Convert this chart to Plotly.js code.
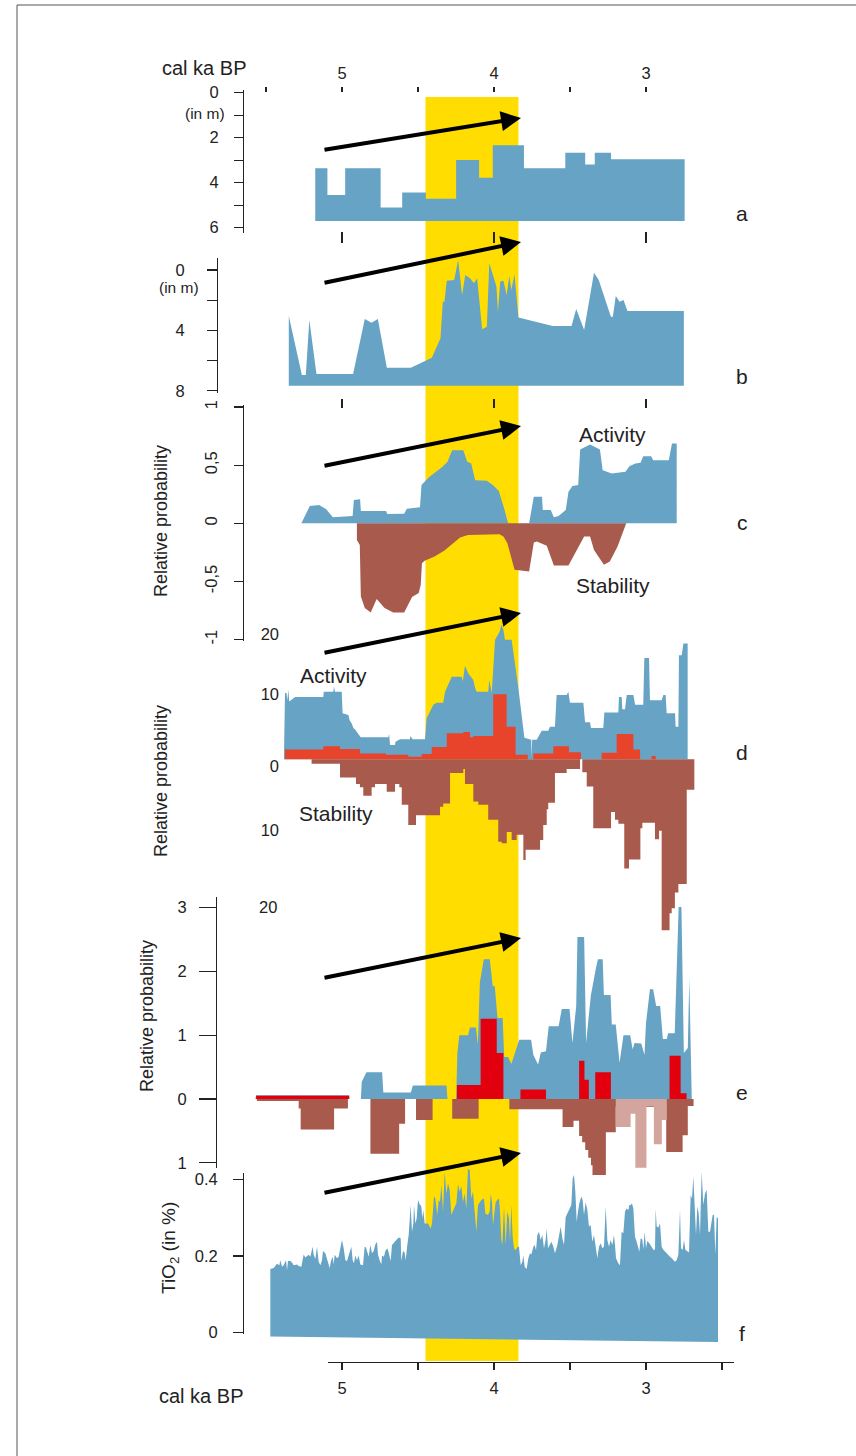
<!DOCTYPE html>
<html><head><meta charset="utf-8">
<script src="https://cdn.plot.ly/plotly-3.0.1.min.js"></script>
<style>html,body{margin:0;padding:0;background:#fff}#chart{width:856px;height:1456px}</style>
</head><body><div id="chart"></div>
<script>
// ---------------- DATA (ages in cal ka BP) ----------------
const topTickAges = [5.5, 5, 4.5, 4, 3.5, 3];
const topTickLabels = ['', '5', '', '4', '', '3'];
const midTickAges = [5, 4, 3];
const bottomTickAges = [5, 4.5, 4, 3.5, 3, 2.5];
const bottomTickLabels = ['5', '', '4', '', '3', ''];
const highlightAges = [4.451, 3.839];

// a: depth (m)
const aAge = [5.176, 5.096, 4.979, 4.746, 4.604, 4.448, 4.249, 4.098, 4.008, 3.803, 3.531, 3.400, 3.337, 3.230, 2.746];
const aDepth = [3.36, 4.55, 3.36, 5.10, 4.44, 4.71, 2.99, 3.78, 2.34, 3.36, 2.67, 3.19, 2.67, 2.96, 2.96];
const aBase = 5.7;
const aTicks = [0, 1, 2, 3, 4, 5, 6];
const aTickText = ['0', '', '2', '', '4', '', '6'];

// b: depth (m)
const bAge = [5.350, 5.264, 5.238, 5.215, 5.168, 4.927, 4.850, 4.806, 4.764, 4.705, 4.547, 4.409, 4.352, 4.337, 4.326, 4.311, 4.262, 4.236, 4.210, 4.189, 4.158, 4.132, 4.111, 4.078, 4.047, 4.031, 3.984, 3.974, 3.959, 3.938, 3.917, 3.899, 3.886, 3.865, 3.839, 3.614, 3.490, 3.459, 3.407, 3.342, 3.311, 3.231, 3.218, 3.199, 3.174, 3.148, 3.122, 2.751];
const bDepth = [3.05, 6.96, 6.96, 3.31, 6.90, 6.90, 3.25, 3.49, 3.25, 6.47, 6.47, 5.81, 4.53, 2.10, 2.10, 0.71, 0.66, -0.66, 1.66, 0.33, 0.55, 0.88, 0.55, 3.93, 3.76, -0.44, 1.10, 2.76, 0.77, 0.71, 1.66, 0.40, 1.33, 0.29, 3.14, 3.71, 3.71, 2.59, 3.98, 0.18, 0.66, 3.09, 3.09, 1.72, 2.10, 1.99, 2.72, 2.72];
const bBase = 7.67;
const bTicks = [0, 2, 4, 6, 8];
const bTickText = ['0', '', '4', '', '8'];

// c: relative probability
const cActAge = [5.267, 5.212, 5.150, 5.104, 5.060, 4.930, 4.922, 4.881, 4.876, 4.710, 4.702, 4.591, 4.573, 4.487, 4.477, 4.430, 4.339, 4.306, 4.275, 4.202, 4.176, 4.150, 4.124, 4.047, 4.008, 3.969, 3.938, 3.907, 3.769, 3.738, 3.684, 3.679, 3.627, 3.606, 3.575, 3.528, 3.510, 3.484, 3.446, 3.433, 3.368, 3.303, 3.285, 3.225, 3.135, 3.109, 3.070, 3.036, 3.018, 2.966, 2.953, 2.850, 2.829, 2.798, 2.798];
const cActVal = [0, 0.149, 0.157, 0.12, 0.051, 0.063, 0.2, 0.206, 0.106, 0.106, 0.08, 0.083, 0.126, 0.137, 0.329, 0.394, 0.486, 0.529, 0.629, 0.629, 0.529, 0.514, 0.371, 0.366, 0.329, 0.28, 0.149, 0, 0, 0.229, 0.229, 0.114, 0.114, 0.051, 0.063, 0.114, 0.271, 0.32, 0.329, 0.634, 0.677, 0.634, 0.457, 0.429, 0.443, 0.491, 0.514, 0.52, 0.577, 0.577, 0.543, 0.543, 0.686, 0.686, 0];
const cStabAge = [4.902, 4.902, 4.883, 4.876, 4.850, 4.811, 4.772, 4.720, 4.663, 4.591, 4.539, 4.495, 4.482, 4.474, 4.456, 4.391, 4.326, 4.275, 4.223, 4.171, 3.964, 3.938, 3.912, 3.865, 3.769, 3.738, 3.718, 3.653, 3.606, 3.510, 3.407, 3.368, 3.342, 3.277, 3.238, 3.187, 3.130];
const cStabVal = [0, -0.143, -0.186, -0.629, -0.729, -0.766, -0.651, -0.729, -0.766, -0.766, -0.634, -0.6, -0.529, -0.343, -0.323, -0.286, -0.234, -0.18, -0.123, -0.1, -0.094, -0.114, -0.171, -0.4, -0.414, -0.166, -0.157, -0.194, -0.363, -0.363, -0.114, -0.114, -0.229, -0.357, -0.329, -0.2, 0];
const cTicks = [-1, -0.5, 0, 0.5, 1];
const cTickText = ['-1', '-0,5', '0', '0,5', '1'];

// d: relative probability (activity up, stability down)
const dActAge = [5.382, 5.380, 5.375, 5.365, 5.360, 5.353, 5.347, 5.309, 5.123, 5.120, 5.057, 5.053, 5.046, 5.002, 4.996, 4.958, 4.950, 4.936, 4.925, 4.914, 4.877, 4.695, 4.690, 4.684, 4.651, 4.648, 4.618, 4.553, 4.550, 4.535, 4.454, 4.443, 4.399, 4.377, 4.334, 4.322, 4.278, 4.213, 4.205, 4.191, 4.169, 4.136, 4.125, 4.114, 4.038, 4.031, 4.015, 3.993, 3.964, 3.951, 3.938, 3.928, 3.884, 3.840, 3.800, 3.755, 3.752, 3.749, 3.719, 3.686, 3.643, 3.632, 3.599, 3.588, 3.577, 3.522, 3.511, 3.500, 3.489, 3.412, 3.401, 3.368, 3.362, 3.281, 3.274, 3.182, 3.178, 3.160, 3.156, 3.138, 3.127, 3.083, 3.072, 3.018, 3.011, 2.980, 2.974, 2.897, 2.886, 2.871, 2.864, 2.809, 2.805, 2.787, 2.783, 2.765, 2.754, 2.726, 2.726];
const dActVal = [0, 9.0, 10.2, 10.2, 9.0, 10.7, 8.9, 9.6, 9.6, 10.4, 10.4, 11.2, 10.4, 10.4, 7.1, 6.8, 6.0, 5.5, 4.8, 4.6, 3.4, 3.4, 3.9, 2.2, 2.2, 2.7, 3.1, 3.1, 3.6, 3.1, 3.1, 6.3, 8.4, 8.7, 8.7, 10.4, 12.7, 12.7, 12.0, 14.4, 13.2, 12.2, 11.0, 10.4, 10.4, 12.2, 10.2, 18.4, 19.6, 20.7, 19.9, 18.4, 18.4, 11.0, 3.3, 3.0, 0.2, 3.0, 3.0, 4.4, 4.4, 5.0, 5.0, 9.9, 9.9, 9.9, 10.4, 8.7, 8.7, 8.7, 5.7, 5.7, 4.8, 4.8, 7.2, 7.2, 9.6, 9.6, 7.7, 7.7, 9.9, 9.9, 8.4, 8.4, 15.6, 15.6, 9.1, 9.1, 9.9, 9.9, 7.1, 7.1, 5.0, 5.0, 16.0, 16.0, 17.8, 17.8, 0];
const dRedAge = [5.375, 5.123, 5.013, 4.882, 4.711, 4.564, 4.476, 4.410, 4.311, 4.202, 4.158, 4.136, 4.005, 3.917, 3.858, 3.778, 3.741, 3.610, 3.507, 3.428, 3.292, 3.193, 3.083, 3.039, 2.963, 2.936];
const dRedVal = [1.5, 2.0, 1.6, 0.9, 0.7, 0.4, 0.8, 1.9, 4.0, 4.2, 3.4, 3.6, 10.0, 5.0, 0.7, 0, 0.9, 2.0, 1.1, 0, 1.0, 3.9, 1.5, 0, 0.5, 0];
const dStabAge = [5.200, 5.013, 4.908, 4.882, 4.860, 4.805, 4.783, 4.706, 4.651, 4.623, 4.607, 4.564, 4.513, 4.355, 4.334, 4.289, 4.202, 4.191, 4.136, 4.103, 4.038, 3.972, 3.949, 3.916, 3.884, 3.851, 3.807, 3.792, 3.697, 3.676, 3.653, 3.643, 3.599, 3.522, 3.434, 3.419, 3.390, 3.347, 3.230, 3.204, 3.182, 3.143, 3.112, 3.037, 3.024, 2.941, 2.914, 2.897, 2.845, 2.831, 2.810, 2.787, 2.732, 2.682];
const dStabVal = [-0.7, -2.8, -3.8, -4.3, -5.6, -4.3, -3.8, -5.0, -3.8, -4.3, -7.0, -10.1, -8.6, -7.3, -6.8, -2.1, -1.5, -3.8, -6.5, -7.0, -9.3, -12.7, -12.9, -11.2, -12.4, -11.6, -15.5, -13.9, -12.4, -10.1, -7.7, -6.7, -2.1, -1.5, 0, -2.0, -4.2, -10.6, -8.1, -9.3, -9.9, -16.8, -15.4, -10.6, -9.75, -12.3, -11.0, -26.3, -23.7, -22.9, -20.5, -19.2, -4.7, 0];
const dLabelVals = [19.28, 10.05, -1.03, -10.85];
const dLabelText = ['20', '10', '0', '10'];

// e: relative probability
const eActAge = [5.570, 5.565, 4.953, 4.950, 4.876, 4.870, 4.839, 4.736, 4.728, 4.547, 4.534, 4.313, 4.306, 4.249, 4.241, 4.228, 4.171, 4.158, 4.119, 4.106, 4.093, 4.067, 4.028, 4.008, 3.995, 3.977, 3.943, 3.933, 3.907, 3.886, 3.834, 3.756, 3.741, 3.710, 3.692, 3.658, 3.640, 3.575, 3.554, 3.503, 3.484, 3.459, 3.451, 3.407, 3.394, 3.363, 3.329, 3.316, 3.285, 3.277, 3.233, 3.225, 3.199, 3.174, 3.148, 3.104, 3.088, 3.075, 3.031, 3.010, 3.000, 2.974, 2.953, 2.933, 2.907, 2.889, 2.863, 2.855, 2.811, 2.798, 2.785, 2.767, 2.751, 2.725, 2.715, 2.699];
const eActVal = [0, 0.06, 0.06, 0, 0, 0.27, 0.42, 0.42, 0.1, 0.1, 0.21, 0.21, 0, 0, 0.72, 1.0, 1.0, 1.12, 1.12, 0.85, 1.83, 2.19, 2.19, 1.77, 1.77, 1.27, 1.27, 0.66, 0.66, 0.55, 0.93, 0.93, 0.69, 0.54, 0.73, 0.75, 1.14, 1.14, 1.41, 1.41, 0.88, 1.46, 2.54, 2.54, 0.88, 1.62, 2.06, 2.19, 2.19, 1.63, 1.63, 1.17, 1.17, 0.57, 1.0, 1.0, 0.78, 0.88, 0.87, 0.69, 1.19, 1.72, 1.72, 1.46, 1.46, 0.94, 0.94, 1.03, 1.03, 1.88, 3.01, 3.01, 0.72, 0.8, 1.89, 0];
const eRedAge = [5.565, 4.953, 4.244, 4.088, 3.982, 3.938, 3.826, 3.658, 3.440, 3.405, 3.376, 3.334, 3.231, 2.845, 2.772, 2.733];
const eRedVal = [0.05, 0, 0.22, 1.26, 0.72, 0, 0.15, 0, 0.6, 0.3, 0, 0.42, 0, 0.68, 0.09, 0];
const eStabAge = [5.560, 5.285, 5.272, 5.052, 4.961, 4.813, 4.624, 4.585, 4.513, 4.404, 4.275, 4.101, 3.899, 3.549, 3.477, 3.440, 3.420, 3.400, 3.380, 3.362, 3.352, 3.264, 3.199, 2.867, 2.759, 2.725, 2.687];
const eStabVal = [-0.03, -0.15, -0.48, -0.15, 0, -0.86, -0.39, 0, -0.33, 0, -0.31, 0, -0.16, -0.44, -0.34, -0.58, -0.68, -0.8, -0.92, -1.04, -1.19, -0.52, -0.12, -0.83, -0.57, -0.11, 0];
const ePinkAge = [3.199, 3.101, 3.070, 2.997, 2.948, 2.896, 2.863];
const ePinkVal = [-0.44, -0.23, -1.08, -0.11, -0.71, -0.33, 0];
const eTicks = [3, 2, 1, 0, -1];
const eTickText = ['3', '2', '1', '0', '1'];

// f: TiO2 (%)
const fAge = [5.4715, 5.4495, 5.4276, 5.4123, 5.4057, 5.3947, 5.3838, 5.3684, 5.3618, 5.3553, 5.3399, 5.3289, 5.3180, 5.2960, 5.2851, 5.2675, 5.2522, 5.2412, 5.2193, 5.2083, 5.1930, 5.1864, 5.1754, 5.1645, 5.1535, 5.1425, 5.1316, 5.1250, 5.1096, 5.0987, 5.0877, 5.0811, 5.0724, 5.0614, 5.0548, 5.0482, 5.0329, 5.0219, 5.0110, 5.0000, 4.9890, 4.9781, 4.9671, 4.9561, 4.9386, 4.9298, 4.9211, 4.9123, 4.9013, 4.8904, 4.8794, 4.8618, 4.8509, 4.8421, 4.8333, 4.8246, 4.8136, 4.8026, 4.7917, 4.7807, 4.7697,
  4.7632, 4.7522, 4.7412, 4.7369, 4.7237, 4.7150, 4.7018, 4.6930, 4.6798, 4.6711, 4.6579, 4.6426, 4.6272, 4.6140, 4.6096, 4.5987, 4.5877, 4.5812, 4.5702, 4.5614, 4.5548, 4.5482, 4.5395, 4.5307, 4.5263, 4.5175, 4.5088, 4.5000, 4.4890, 4.4781, 4.4715, 4.4649, 4.4561, 4.4342, 4.4167, 4.4079, 4.3947, 4.3860, 4.3728, 4.3640, 4.3553, 4.3465, 4.3355, 4.3246, 4.3136, 4.3026, 4.2917, 4.2807, 4.2632, 4.2478, 4.2368, 4.2259, 4.2149, 4.2039, 4.1930, 4.1820, 4.1711, 4.1601, 4.1491, 4.1382, 4.1272, 4.1162, 4.1053, 4.0943, 4.0833, 4.0658, 4.0570, 4.0395, 4.0285, 4.0219, 4.0132, 4.0066, 3.9956,
  3.9890, 3.9781, 3.9671, 3.9605, 3.9518, 3.9452, 3.9342, 3.9232, 3.9123, 3.9013, 3.8947, 3.8860, 3.8772, 3.8684, 3.8575, 3.8465, 3.8355, 3.8246, 3.8136, 3.8070, 3.7982, 3.7851, 3.7741, 3.7632, 3.7544, 3.7412, 3.7325, 3.7237, 3.7149, 3.7039, 3.6930, 3.6820, 3.6711, 3.6601, 3.6535, 3.6447, 3.6316, 3.6228, 3.6096, 3.5987, 3.5833, 3.5724, 3.5614, 3.5504, 3.5395, 3.5285, 3.5175, 3.5000, 3.4912, 3.4825, 3.4737, 3.4649, 3.4561, 3.4474, 3.4386, 3.4254, 3.4167, 3.4079, 3.3969, 3.3860, 3.3750, 3.3640, 3.3531, 3.3421, 3.3311, 3.3202, 3.3092, 3.2982, 3.2873, 3.2763, 3.2654, 3.2544, 3.2434, 3.2325, 3.2215,
  3.2105, 3.2039, 3.1974, 3.1820, 3.1711, 3.1601, 3.1491, 3.1382, 3.1272, 3.1162, 3.1096, 3.1009, 3.0921, 3.0833, 3.0724, 3.0614, 3.0504, 3.0439, 3.0351, 3.0241, 3.0175, 3.0088, 3.0000, 2.9912, 2.9781, 2.9627, 2.9518, 2.9408, 2.9364, 2.9298, 2.9189, 2.9079, 2.8969, 2.8860, 2.8750, 2.8640, 2.8531, 2.8421, 2.8311, 2.8202, 2.8092, 2.7982, 2.7873, 2.7763, 2.7697, 2.7588, 2.7500, 2.7412, 2.7281, 2.7171, 2.7061, 2.6974, 2.6886, 2.6798, 2.6711, 2.6623, 2.6535, 2.6447, 2.6338, 2.6228, 2.6118, 2.6009, 2.5899, 2.5789, 2.5680, 2.5614, 2.5526, 2.5439, 2.5351, 2.5263];
const fTiO2 = [0.166, 0.169, 0.180, 0.176, 0.189, 0.172, 0.176, 0.189, 0.163, 0.187, 0.187, 0.183, 0.176, 0.178, 0.174, 0.172, 0.204, 0.196, 0.203, 0.198, 0.224, 0.203, 0.192, 0.224, 0.185, 0.176, 0.189, 0.213, 0.207, 0.194, 0.178, 0.169, 0.187, 0.198, 0.178, 0.203, 0.194, 0.198, 0.220, 0.242, 0.220, 0.189, 0.187, 0.203, 0.224, 0.189, 0.181, 0.201, 0.189, 0.201, 0.178, 0.176, 0.224, 0.222, 0.209, 0.198, 0.229, 0.207, 0.213, 0.230, 0.237,
  0.204, 0.189, 0.178, 0.201, 0.198, 0.213, 0.220, 0.209, 0.187, 0.229, 0.236, 0.242, 0.248, 0.246, 0.187, 0.213, 0.209, 0.189, 0.229, 0.255, 0.294, 0.333, 0.263, 0.285, 0.333, 0.285, 0.298, 0.346, 0.335, 0.329, 0.298, 0.320, 0.285, 0.285, 0.272, 0.285, 0.355, 0.350, 0.307, 0.346, 0.340, 0.385, 0.316, 0.420, 0.363, 0.389, 0.372, 0.307, 0.324, 0.337, 0.387, 0.368, 0.382, 0.340, 0.363, 0.324, 0.427, 0.424, 0.350, 0.368, 0.316, 0.263, 0.333, 0.340, 0.346, 0.350, 0.311, 0.307, 0.316, 0.363, 0.340, 0.281, 0.324,
  0.340, 0.346, 0.350, 0.316, 0.242, 0.229, 0.329, 0.229, 0.316, 0.298, 0.237, 0.333, 0.250, 0.220, 0.215, 0.223, 0.225, 0.176, 0.185, 0.201, 0.172, 0.166, 0.194, 0.207, 0.204, 0.224, 0.229, 0.215, 0.255, 0.263, 0.242, 0.255, 0.220, 0.242, 0.272, 0.220, 0.229, 0.237, 0.224, 0.207, 0.229, 0.255, 0.276, 0.246, 0.229, 0.302, 0.311, 0.324, 0.333, 0.402, 0.411, 0.368, 0.289, 0.316, 0.337, 0.355, 0.346, 0.307, 0.340, 0.320, 0.276, 0.281, 0.237, 0.255, 0.220, 0.194, 0.224, 0.233, 0.220, 0.225, 0.329, 0.242, 0.224, 0.242, 0.229,
  0.255, 0.229, 0.194, 0.181, 0.176, 0.263, 0.259, 0.316, 0.324, 0.320, 0.333, 0.333, 0.337, 0.324, 0.250, 0.237, 0.224, 0.211, 0.246, 0.243, 0.216, 0.263, 0.220, 0.239, 0.233, 0.224, 0.216, 0.216, 0.324, 0.277, 0.274, 0.285, 0.224, 0.216, 0.211, 0.207, 0.203, 0.198, 0.194, 0.189, 0.185, 0.189, 0.203, 0.320, 0.220, 0.216, 0.242, 0.216, 0.211, 0.209, 0.359, 0.350, 0.407, 0.307, 0.255, 0.329, 0.311, 0.255, 0.420, 0.333, 0.363, 0.372, 0.263, 0.263, 0.290, 0.307, 0.307, 0.203, 0.302, 0.298];
const fBase = [-0.010, -0.024];
const fTicks = [0, 0.2, 0.4];
const fTickText = ['0', '0.2', '0.4'];

// ---------------- LAYOUT HELPERS ----------------
const W = 856, H = 1456;
const px = p => p / W;
const py = p => 1 - p / H;
const kaAt = p => 5 - (p - 342) / 152;
const XR = [kaAt(0), kaAt(W)];
function yRange(topPx, botPx, refVal, refPx, k, reversed) {
  if (reversed) return [refVal + (botPx - refPx) / k, refVal - (refPx - topPx) / k];
  return [refVal - (botPx - refPx) / k, refVal + (refPx - topPx) / k];
}
const dom = (t, b) => [py(b), py(t)];
function closeTo(xs, ys, b0, b1) {
  return { x: xs.concat([xs[xs.length - 1], xs[0]]), y: ys.concat([b1, b0]) };
}

const BLUE = '#66a3c4', BROWN = '#a85b4c', RED_D = '#e8432b', RED_E = '#e2000f', PINK = '#d4a59c', YELLOW = '#ffdd00', INK = '#222222';
const FONT = "'Liberation Sans', Arial, sans-serif";
const TICK = 16.5;

function area(xy, ax, color, shape, fill) {
  return Object.assign({ type: 'scatter', mode: 'lines', xaxis: 'x', yaxis: ax, fill: fill || 'toself',
    fillcolor: color, line: { width: 0, shape: shape || 'linear', color: color }, hoverinfo: 'skip', showlegend: false }, xy);
}

const traces = [];
traces.push(area(closeTo(aAge, aDepth, aBase, aBase), 'y', BLUE, 'hv'));
traces.push(area(closeTo(bAge, bDepth, bBase, bBase), 'y2', BLUE, 'linear'));
traces.push(area({ x: cActAge, y: cActVal }, 'y3', BLUE, 'linear', 'tozeroy'));
traces.push(area({ x: cStabAge, y: cStabVal }, 'y3', BROWN, 'linear', 'tozeroy'));
traces.push(area({ x: dActAge, y: dActVal }, 'y4', BLUE, 'linear', 'tozeroy'));
traces.push(area({ x: dRedAge, y: dRedVal }, 'y4', RED_D, 'hv', 'tozeroy'));
traces.push(area({ x: dStabAge, y: dStabVal }, 'y4', BROWN, 'hv', 'tozeroy'));
traces.push(area({ x: eActAge, y: eActVal }, 'y7', BLUE, 'linear', 'tozeroy'));
traces.push(area({ x: eRedAge, y: eRedVal }, 'y7', RED_E, 'hv', 'tozeroy'));
traces.push(area({ x: eStabAge, y: eStabVal }, 'y7', BROWN, 'hv', 'tozeroy'));
traces.push(area({ x: ePinkAge, y: ePinkVal }, 'y7', PINK, 'hv', 'tozeroy'));
traces.push(area(closeTo(fAge, fTiO2, fBase[0], fBase[1]), 'y8', BLUE, 'linear'));
// empty helpers so that every axis gets its subplot
[['x2', 'y'], ['x3', 'y'], ['x4', 'y'], ['x5', 'y'], ['x', 'y5'], ['x', 'y6']].forEach(p =>
  traces.push({ type: 'scatter', mode: 'lines', x: [], y: [], xaxis: p[0], yaxis: p[1], hoverinfo: 'skip', showlegend: false }));

const base = { showgrid: false, zeroline: false, fixedrange: true, linecolor: INK, linewidth: 1.2, tickcolor: INK, tickwidth: 1.2,
  tickfont: { size: TICK, color: INK, family: FONT } };
const yAxis = (o) => Object.assign({}, base, { anchor: 'free', showline: true, ticks: 'outside', tickmode: 'array' }, o);

const layout = {
  width: W, height: H, margin: { l: 0, r: 0, t: 0, b: 0, pad: 0 },
  paper_bgcolor: '#ffffff', plot_bgcolor: 'rgba(0,0,0,0)', showlegend: false,
  font: { family: FONT, color: INK },
  xaxis: Object.assign({}, base, { domain: [0, 1], range: XR, showticklabels: false, ticks: '', showline: false, anchor: 'y' }),
  xaxis2: Object.assign({}, base, { overlaying: 'x', side: 'top', anchor: 'free', position: py(92), range: XR, tickmode: 'array',
    tickvals: topTickAges, ticktext: topTickLabels, ticks: 'outside', ticklen: 5, showline: false, ticklabelstandoff: 1 }),
  xaxis3: Object.assign({}, base, { overlaying: 'x', anchor: 'free', position: py(231), range: XR, tickmode: 'array',
    tickvals: midTickAges, ticks: 'outside', ticklen: 11, showticklabels: false, showline: false }),
  xaxis4: Object.assign({}, base, { overlaying: 'x', anchor: 'free', position: py(398), range: XR, tickmode: 'array',
    tickvals: midTickAges, ticks: 'outside', ticklen: 9, showticklabels: false, showline: false }),
  xaxis5: Object.assign({}, base, { domain: [px(328), px(734)], anchor: 'free', position: py(1362), range: [kaAt(328), kaAt(734)],
    tickmode: 'array', tickvals: bottomTickAges, ticktext: bottomTickLabels, ticks: 'outside', ticklen: 7, showline: true, ticklabelstandoff: 4 }),
  yaxis: yAxis({ domain: dom(90, 233), range: yRange(90, 233, 0, 92.7, 22.5, true), position: px(243), tickvals: aTicks, ticktext: aTickText, ticklen: 9, ticklabelstandoff: 12 }),
  yaxis2: yAxis({ domain: dom(258, 393), range: yRange(258, 393, 0, 270, 15.09, true), position: px(217), tickvals: bTicks, ticktext: bTickText, ticklen: 10, ticklabelstandoff: 19 }),
  yaxis3: yAxis({ domain: dom(405, 641), range: yRange(405, 641, 0, 523.3, 116.3, false), position: px(243), tickvals: cTicks, ticktext: cTickText, ticklen: 9, tickangle: -90, ticklabelstandoff: 10 }),
  yaxis4: yAxis({ domain: dom(600, 940), range: yRange(600, 940, 0, 759.3, 6.5, false), position: px(279), tickvals: dLabelVals, ticktext: dLabelText, ticks: '', showline: false }),
  yaxis5: yAxis({ domain: dom(897, 1168), range: yRange(897, 1168, 0, 1099, 63.77, false), position: px(216), tickvals: eTicks, ticktext: eTickText, ticklen: 17, ticklabelstandoff: 9 }),
  yaxis6: yAxis({ domain: dom(1173, 1334), range: yRange(1173, 1334, 0, 1332.7, 383.5, false), position: px(243), tickvals: fTicks, ticktext: fTickText, ticklen: 10, ticklabelstandoff: 12 }),
  yaxis7: Object.assign({}, base, { anchor: 'free', position: 0, visible: false, domain: dom(880, 1200), range: yRange(880, 1200, 0, 1099, 63.77, false) }),
  yaxis8: Object.assign({}, base, { anchor: 'free', position: 0, visible: false, domain: dom(1160, 1352), range: yRange(1160, 1352, 0, 1332.7, 383.5, false) }),
  shapes: [
    { type: 'rect', xref: 'x', yref: 'paper', x0: highlightAges[0], x1: highlightAges[1], y0: py(1361), y1: py(97), fillcolor: YELLOW, line: { width: 0 }, layer: 'below' },
    { type: 'line', xref: 'paper', yref: 'paper', x0: px(17), x1: 1, y0: py(5), y1: py(5), line: { color: '#555', width: 1 } },
    { type: 'line', xref: 'paper', yref: 'paper', x0: px(17), x1: px(17), y0: py(5), y1: 0, line: { color: '#555', width: 1 } }
  ],
  annotations: []
};

function txt(t, x, y, size, opts) {
  layout.annotations.push(Object.assign({ text: t, xref: 'paper', yref: 'paper', x: px(x), y: py(y), showarrow: false,
    xanchor: 'center', yanchor: 'middle', font: { size: size, color: INK, family: FONT } }, opts || {}));
}
txt('cal ka BP', 204, 68, 20);
txt('cal ka BP', 201, 1396, 20);
txt('(in m)', 205, 114, 15.5);
txt('(in m)', 179, 288, 15.5);
txt('Activity', 612, 434, 21);
txt('Stability', 613, 585, 21);
txt('Activity', 333, 675, 21);
txt('Stability', 336, 813, 21);
txt('20', 268, 907, TICK);
[['a', 213], ['b', 377], ['c', 522], ['d', 752], ['e', 1092], ['f', 1333]].forEach(l => txt(l[0], 742, l[1], 21));
txt('Relative probability', 161, 521, 18, { textangle: -90 });
txt('Relative probability', 161, 781, 18, { textangle: -90 });
txt('Relative probability', 147, 1016, 18, { textangle: -90 });
txt('TiO<sub>2</sub> (in %)', 170, 1248, 19, { textangle: -90 });

// arrows (tip, tail)
[[118, 150], [242, 283], [426, 466], [613, 653], [938, 978], [1153, 1193]].forEach(a => {
  layout.annotations.push({ xref: 'paper', yref: 'paper', x: px(521), y: py(a[0]), ax: 323 - 521, ay: a[1] - a[0], text: '',
    showarrow: true, arrowhead: 2, arrowsize: 1, arrowwidth: 4, arrowcolor: '#000', standoff: 0 });
});

Plotly.newPlot('chart', traces, layout, { staticPlot: true, displayModeBar: false });
</script>
</body></html>
